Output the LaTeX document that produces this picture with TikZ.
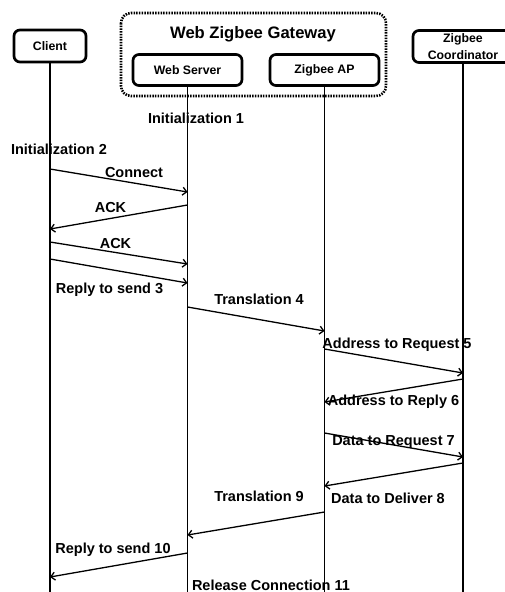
\documentclass[tikz,border=0pt]{standalone}
\usepackage{fontspec}
\setmainfont{Liberation Sans}
\usetikzlibrary{arrows.meta}
\tikzset{
  head/.style={draw,line width=2.7pt,rounded corners=6pt,inner sep=0pt,align=center,
    font=\fontsize{12.3}{17}\selectfont\bfseries},
  life/.style={line width=1.3pt},
  msg/.style={line width=1.3pt,-{Straight Barb[length=4pt,width=8pt]}},
  lbl/.style={inner sep=0pt,font=\fontsize{14.5}{16}\selectfont\bfseries},
}
\begin{document}
\begin{tikzpicture}[x=1pt,y=-1pt]
  \useasboundingbox (0,0) rectangle (504,592);
  \draw[line width=2.6pt,dash pattern=on 1.5pt off 1.2pt,rounded corners=10pt] (121,13) rectangle (386,96);
  \node[lbl,font=\fontsize{16.6}{18}\selectfont\bfseries] (gateway) at (253,34) {Web Zigbee Gateway};
  \node[head,minimum width=72pt,minimum height=32pt] (client) at (50,46) {Client};
  \node[head,minimum width=109pt,minimum height=31pt] (web) at (187.5,70) {Web Server};
  \node[head,minimum width=109pt,minimum height=31pt] (ap) at (324.5,70) {Zigbee AP};
  \node[head,minimum width=100pt,minimum height=32pt] (coord) at (463,46.5) {Zigbee\\Coordinator};
  \foreach \h in {client,web,ap,coord} {
    \coordinate (\h-end) at (\h |- 0,592);
    \draw[life] (\h.south) -- (\h-end);
  }
  \foreach \n/\a/\b/\ya/\yb in {1/client/web/169/192,2/web/client/205/229,3/client/web/242/264,
      4/client/web/259/283,5/web/ap/307/331,6/ap/coord/349/373,7/coord/ap/379/402,
      8/ap/coord/433/457,9/coord/ap/463/486,10/ap/web/512/535,11/web/client/553/577} {
    \coordinate (s\n) at (\a |- 0,\ya);
    \coordinate (e\n) at (\b |- 0,\yb);
    \draw[msg] (s\n) -- (e\n);
  }
  \foreach \n/\x/\y/\t in {init1/196/118/Initialization 1,init2/59/149/Initialization 2,
      connect/134/173/Connect,ack1/110.5/208/ACK,ack2/115.5/244/ACK,reply3/109.5/290/Reply to send 3,
      trans4/259/299/Translation 4,addrreq/397/345/Address to Request 5,addrrep/393.5/402/Address to Reply 6,
      datareq/393.5/442/Data to Request 7,datadel/388/498/Data to Deliver 8,trans9/259/496/Translation 9,
      reply10/113/550/Reply to send 10,release/271/585/Release Connection 11} {
    \node[lbl] (\n) at (\x,\y) {\t};
  }
\end{tikzpicture}
\end{document}
